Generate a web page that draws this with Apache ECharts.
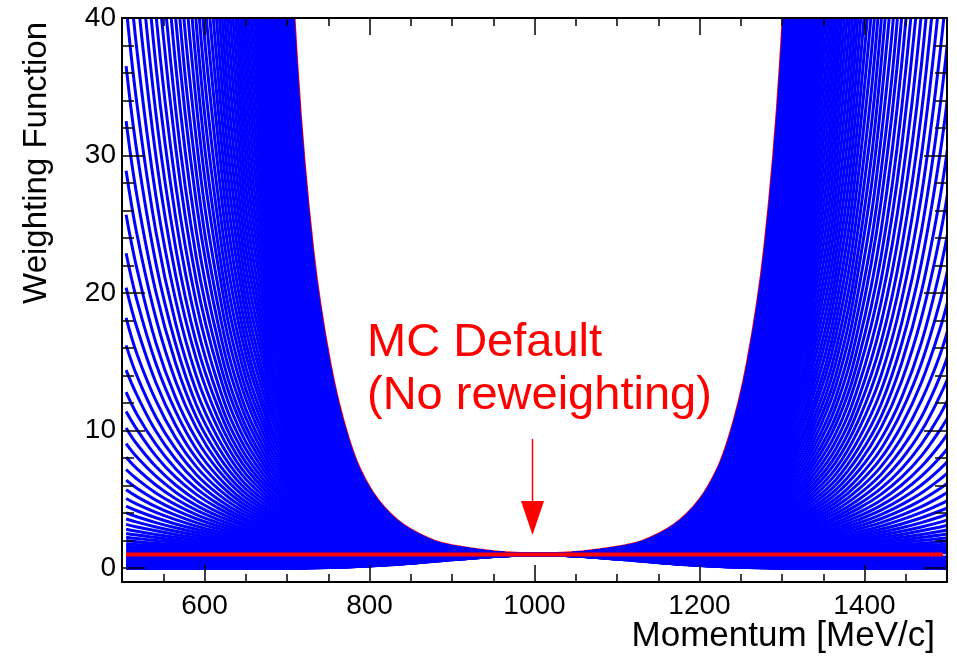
<!DOCTYPE html>
<html>
<head>
<meta charset="utf-8">
<script src="https://cdn.jsdelivr.net/npm/echarts@6/dist/echarts.min.js"></script>
<style>
html,body{margin:0;padding:0;background:#ffffff;}
#chart{width:957px;height:657px;}
</style>
</head>
<body>
<div id="chart"></div>
<script>
// ---- axes ----
const momentumRange = [500, 1500];
const weightRange = [-1, 40];
const xMajorTicks = [600, 800, 1000, 1200, 1400];
const xMinorStep = 50;
const yMajorTicks = [0, 10, 20, 30, 40];
const yMinorTicks = [0, 2, 4, 6, 8, 10, 12, 14, 16, 18, 20, 22, 24, 26, 28, 30, 32, 34, 36, 38, 40];

// ---- curve sampling (momentum = centre +/- offset) ----
const centerMomentum = 1005;
const sampleOffsets = [0, 104, 147, 180, 208, 232, 254, 275, 294, 311, 328, 360, 388, 415, 440, 464, 487, 500];

// weights read at each offset (same value on both sides of the centre); curves rising away from the centre
const risingCurves = [
[1,1.01,1.01,1.02,1.02,1.03,1.03,1.04,1.04,1.05,1.05,1.06,1.07,1.08,1.09,1.11,1.12,1.12],
[1,1.01,1.02,1.03,1.04,1.05,1.06,1.07,1.08,1.09,1.11,1.13,1.15,1.17,1.2,1.22,1.25,1.26],
[1,1.02,1.03,1.05,1.06,1.08,1.09,1.11,1.13,1.14,1.16,1.2,1.23,1.27,1.31,1.35,1.39,1.42],
[1,1.02,1.04,1.06,1.08,1.11,1.13,1.15,1.17,1.2,1.22,1.27,1.32,1.38,1.43,1.49,1.55,1.59],
[1,1.03,1.05,1.08,1.11,1.13,1.16,1.19,1.22,1.25,1.28,1.35,1.42,1.49,1.57,1.65,1.73,1.79],
[1,1.03,1.06,1.09,1.13,1.16,1.2,1.23,1.27,1.31,1.35,1.43,1.52,1.62,1.72,1.82,1.93,2.01],
[1,1.04,1.07,1.11,1.15,1.19,1.23,1.28,1.32,1.37,1.42,1.52,1.63,1.75,1.88,2.01,2.16,2.25],
[1,1.04,1.08,1.13,1.17,1.22,1.27,1.32,1.38,1.43,1.49,1.62,1.75,1.9,2.05,2.23,2.41,2.53],
[1,1.05,1.09,1.14,1.2,1.25,1.31,1.37,1.43,1.5,1.57,1.72,1.88,2.05,2.25,2.46,2.69,2.84],
[1,1.05,1.11,1.16,1.22,1.28,1.35,1.42,1.49,1.57,1.65,1.82,2.01,2.23,2.46,2.72,3,3.19],
[1,1.06,1.12,1.18,1.25,1.32,1.39,1.47,1.55,1.64,1.73,1.93,2.16,2.41,2.69,3,3.35,3.58],
[1,1.06,1.13,1.2,1.27,1.35,1.43,1.52,1.62,1.72,1.82,2.05,2.32,2.61,2.94,3.32,3.74,4.02],
[1,1.07,1.14,1.22,1.3,1.38,1.48,1.58,1.68,1.8,1.92,2.18,2.48,2.83,3.22,3.67,4.18,4.52],
[1,1.07,1.15,1.23,1.32,1.42,1.52,1.63,1.75,1.88,2.01,2.32,2.66,3.06,3.53,4.06,4.66,5.07],
[1,1.08,1.16,1.25,1.35,1.45,1.57,1.69,1.82,1.96,2.12,2.46,2.86,3.32,3.86,4.48,5.21,5.7],
[1,1.08,1.17,1.27,1.38,1.49,1.62,1.75,1.9,2.05,2.23,2.61,3.06,3.6,4.22,4.95,5.81,6.4],
[1,1.09,1.19,1.29,1.4,1.53,1.67,1.81,1.97,2.15,2.34,2.77,3.29,3.9,4.62,5.47,6.49,7.18],
[1,1.09,1.2,1.31,1.43,1.57,1.72,1.88,2.05,2.25,2.46,2.94,3.53,4.22,5.05,6.05,7.24,8.07],
[1,1.1,1.21,1.33,1.46,1.61,1.77,1.94,2.14,2.35,2.59,3.13,3.78,4.57,5.53,6.69,8.08,9.06],
[1,1.11,1.22,1.35,1.49,1.65,1.82,2.01,2.23,2.46,2.72,3.32,4.06,4.95,6.05,7.39,9.03,10.2],
[1,1.11,1.23,1.37,1.52,1.69,1.88,2.09,2.32,2.57,2.86,3.53,4.35,5.37,6.62,8.17,10.1,11.4],
[1,1.12,1.25,1.39,1.55,1.73,1.93,2.16,2.41,2.69,3,3.74,4.66,5.81,7.24,9.03,11.2,12.8],
[1,1.12,1.26,1.41,1.58,1.78,1.99,2.24,2.51,2.82,3.16,3.97,5,6.3,7.92,9.97,12.6,14.4],
[1,1.13,1.27,1.43,1.62,1.82,2.05,2.32,2.61,2.94,3.32,4.22,5.37,6.82,8.67,11,14,16.2],
[1,1.13,1.28,1.46,1.65,1.87,2.12,2.4,2.72,3.08,3.49,4.48,5.75,7.39,9.49,12.2,15.6,18.2],
[1,1.14,1.3,1.48,1.68,1.92,2.18,2.48,2.83,3.22,3.67,4.76,6.17,8,10.4,13.5,17.5,20.4],
[1,1.14,1.31,1.5,1.72,1.96,2.25,2.57,2.94,3.37,3.86,5.05,6.62,8.67,11.4,14.9,19.5,22.9],
[1,1.15,1.32,1.52,1.75,2.01,2.32,2.66,3.06,3.53,4.06,5.37,7.1,9.39,12.4,16.4,21.8,25.7],
[1,1.16,1.34,1.54,1.79,2.06,2.39,2.76,3.19,3.69,4.26,5.7,7.61,10.2,13.6,18.2,24.3,28.9],
[1,1.16,1.35,1.57,1.82,2.12,2.46,2.86,3.32,3.86,4.48,6.05,8.17,11,14.9,20.1,27.1,32.5],
[1,1.17,1.36,1.59,1.86,2.17,2.53,2.96,3.46,4.03,4.71,6.42,8.76,11.9,16.3,22.2,30.3,36.5],
[1,1.17,1.38,1.62,1.9,2.23,2.61,3.06,3.6,4.22,4.95,6.82,9.39,12.9,17.8,24.5,33.8,40.9],
[1,1.18,1.39,1.64,1.93,2.28,2.69,3.17,3.74,4.42,5.21,7.24,10.1,14,19.5,27.1,37.7,46],
[1,1.19,1.4,1.67,1.97,2.34,2.77,3.29,3.9,4.62,5.47,7.69,10.8,15.2,21.3,30,42.1,51.6],
[1,1.19,1.42,1.69,2.01,2.4,2.86,3.4,4.06,4.83,5.75,8.17,11.6,16.4,23.3,33.1,47,58],
[1,1.2,1.43,1.72,2.05,2.46,2.94,3.53,4.22,5.05,6.05,8.67,12.4,17.8,25.5,36.6,52.5,65.1],
[1,1.2,1.45,1.74,2.1,2.52,3.03,3.65,4.39,5.29,6.36,9.21,13.3,19.3,27.9,40.4,58.6],
[1,1.21,1.46,1.77,2.14,2.59,3.13,3.78,4.57,5.53,6.69,9.78,14.3,20.9,30.6,44.7,65.4],
[1,1.22,1.48,1.8,2.18,2.65,3.22,3.92,4.76,5.78,7.03,10.4,15.3,22.6,33.4,49.4,73],
[1,1.22,1.49,1.82,2.23,2.72,3.32,4.06,4.95,6.05,7.39,11,16.4,24.5,36.6,54.6,81.5],
[1,1.23,1.51,1.85,2.27,2.79,3.42,4.2,5.16,6.33,7.77,11.7,17.6,26.6,40,60.3,90.9],
[1,1.23,1.52,1.88,2.32,2.86,3.53,4.35,5.37,6.62,8.17,12.4,18.9,28.8,43.8,66.7],
[1,1.24,1.54,1.91,2.36,2.93,3.63,4.5,5.58,6.92,8.58,13.2,20.3,31.2,47.9,73.7],
[1,1.25,1.55,1.93,2.41,3,3.74,4.66,5.81,7.24,9.03,14,21.8,33.8,52.5,81.5],
[1,1.25,1.57,1.96,2.46,3.08,3.86,4.83,6.05,7.58,9.49,14.9,23.3,36.6,57.4,90],
[1,1.26,1.58,1.99,2.51,3.16,3.97,5,6.3,7.92,9.97,15.8,25,39.6,62.8,99.5],
[1,1.26,1.6,2.02,2.56,3.24,4.1,5.18,6.55,8.29,10.5,16.8,26.8,42.9,68.7],
[1,1.27,1.62,2.05,2.61,3.32,4.22,5.37,6.82,8.67,11,17.8,28.8,46.5,75.2],
[1,1.28,1.63,2.09,2.66,3.4,4.35,5.56,7.1,9.07,11.6,18.9,30.9,50.4,82.3],
[1,1.28,1.65,2.12,2.72,3.49,4.48,5.75,7.39,9.49,12.2,20.1,33.1,54.6,90],
[1,1.29,1.67,2.15,2.77,3.58,4.62,5.96,7.69,9.92,12.8,21.3,35.5,59.1,98.5],
[1,1.3,1.68,2.18,2.83,3.67,4.76,6.17,8,10.4,13.5,22.6,38.1,64.1,107.8],
[1,1.3,1.7,2.21,2.89,3.76,4.9,6.39,8.33,10.9,14.2,24,40.9,69.4],
[1,1.31,1.72,2.25,2.94,3.86,5.05,6.62,8.67,11.4,14.9,25.5,43.8,75.2],
[1,1.32,1.73,2.28,3,3.96,5.21,6.86,9.03,11.9,15.6,27.1,47,81.5],
[1,1.32,1.75,2.32,3.06,4.06,5.37,7.1,9.39,12.4,16.4,28.8,50.4,88.2],
[1,1.33,1.77,2.35,3.13,4.16,5.53,7.35,9.78,13,17.3,30.6,54.1,95.6],
[1,1.34,1.79,2.39,3.19,4.26,5.7,7.61,10.2,13.6,18.2,32.5,58,103.5],
[1,1.34,1.8,2.42,3.25,4.37,5.87,7.89,10.6,14.2,19.1,34.5,62.2,112.2],
[1,1.35,1.82,2.46,3.32,4.48,6.05,8.17,11,14.9,20.1,36.6,66.7,121.5],
[1,1.36,1.84,2.5,3.39,4.6,6.23,8.46,11.5,15.6,21.1,38.9,71.5,131.6],
[1,1.36,1.86,2.53,3.46,4.71,6.42,8.76,11.9,16.3,22.2,41.3,76.7],
[1,1.37,1.88,2.57,3.53,4.83,6.62,9.07,12.4,17,23.3,43.8,82.3],
[1,1.38,1.9,2.61,3.6,4.95,6.82,9.39,12.9,17.8,24.5,46.5,88.2],
[1,1.38,1.92,2.65,3.67,5.08,7.03,9.73,13.5,18.6,25.8,49.4,94.6],
[1,1.39,1.93,2.69,3.74,5.21,7.24,10.1,14,19.5,27.1,52.5,101.5],
[1,1.4,1.95,2.73,3.82,5.34,7.46,10.4,14.6,20.4,28.5,55.7,108.9],
[1,1.4,1.97,2.77,3.9,5.47,7.69,10.8,15.2,21.3,30,59.1,116.7],
[1,1.41,1.99,2.82,3.97,5.61,7.92,11.2,15.8,22.3,31.5,62.8,125.2],
[1,1.42,2.01,2.86,4.06,5.75,8.17,11.6,16.4,23.3,33.1,66.7,134.3],
[1,1.43,2.03,2.9,4.14,5.9,8.41,12,17.1,24.4,34.8,70.8,144],
[1,1.43,2.05,2.94,4.22,6.05,8.67,12.4,17.8,25.5,36.6,75.2,154.5],
[1,1.44,2.08,2.99,4.31,6.2,8.94,12.9,18.5,26.7,38.5,79.8,165.7],
[1,1.45,2.1,3.03,4.39,6.36,9.21,13.3,19.3,27.9,40.4,84.8],
[1,1.46,2.12,3.08,4.48,6.52,9.49,13.8,20.1,29.2,42.5,90],
[1,1.46,2.14,3.13,4.57,6.69,9.78,14.3,20.9,30.6,44.7,95.6],
[1,1.47,2.16,3.17,4.66,6.86,10.1,14.8,21.8,32,47,101],
[1,1.48,2.18,3.22,4.76,7.03,10.4,15.3,22.6,33.4,49.4,107.8],
[1,1.48,2.2,3.27,4.85,7.21,10.7,15.9,23.6,35,51.9,114.4],
[1,1.49,2.23,3.32,4.95,7.39,11,16.4,24.5,36.6,54.6,121.5],
[1,1.5,2.25,3.37,5.05,7.58,11.4,17,25.5,38.3,57.4,129],
[1,1.51,2.27,3.42,5.16,7.77,11.7,17.6,26.6,40,60.3,137],
[1,1.51,2.29,3.47,5.26,7.96,12.1,18.3,27.7,41.9,63.4],
[1,1.52,2.32,3.53,5.37,8.17,12.4,18.9,28.8,43.8,66.7],
[1,1.53,2.34,3.58,5.47,8.37,12.8,19.6,30,45.8,70.1],
[1,1.54,2.36,3.63,5.58,8.58,13.2,20.3,31.2,47.9,73.7],
[1,1.55,2.39,3.69,5.7,8.8,13.6,21,32.5,50.1,77.5],
[1,1.55,2.41,3.74,5.81,9.03,14,21.8,33.8,52.5,81.5],
[1,1.56,2.44,3.8,5.93,9.25,14.4,22.5,35.2,54.9,85.6],
[1,1.57,2.46,3.86,6.05,9.49,14.9,23.3,36.6,57.4,90]
];

// curves falling away from the centre (weights below 1)
const fallingCurves = [
[1,.99,.98,.97,.96,.95,.94,.93,.92,.91,.9,.89,.87,.85,.84,.82,.8,.79],
[1,.98,.96,.94,.92,.9,.89,.87,.85,.84,.82,.79,.76,.73,.7,.67,.64,.63],
[1,.97,.94,.91,.89,.86,.84,.81,.79,.76,.74,.7,.66,.62,.58,.55,.52,.5],
[1,.96,.92,.89,.85,.82,.79,.76,.73,.7,.67,.62,.57,.53,.49,.45,.41,.4],
[1,.95,.9,.86,.82,.78,.74,.7,.67,.64,.61,.55,.5,.45,.41,.37,.33,.31],
[1,.94,.89,.84,.79,.74,.7,.66,.62,.58,.55,.49,.43,.38,.34,.3,.27,.25],
[1,.93,.87,.81,.76,.7,.66,.61,.57,.53,.5,.43,.38,.33,.28,.25,.21,.2],
[1,.92,.85,.79,.73,.67,.62,.57,.53,.49,.45,.38,.33,.28,.24,.2,.17,.16],
[1,.91,.84,.76,.7,.64,.58,.53,.49,.44,.41,.34,.28,.24,.2,.17,.14,.12],
[1,.9,.82,.74,.67,.61,.55,.5,.45,.41,.37,.3,.25,.2,.17,.14,.11,.098],
[1,.9,.8,.72,.64,.58,.52,.46,.41,.37,.33,.27,.21,.17,.14,.11,.089,.078],
[1,.89,.79,.7,.62,.55,.49,.43,.38,.34,.3,.24,.19,.15,.12,.091,.071,.062],
[1,.88,.77,.68,.59,.52,.46,.4,.35,.31,.27,.21,.16,.12,.096,.074,.057,.049],
[1,.87,.76,.66,.57,.5,.43,.38,.33,.28,.25,.19,.14,.11,.08,.061,.046,.039],
[1,.86,.74,.64,.55,.47,.41,.35,.3,.26,.22,.17,.12,.091,.067,.05,.037,.031],
[1,.85,.73,.62,.53,.45,.38,.33,.28,.24,.2,.15,.11,.077,.056,.041,.03,.024],
[1,.84,.71,.6,.51,.43,.36,.3,.26,.22,.18,.13,.093,.066,.047,.033,.024,.019],
[1,.84,.7,.58,.49,.41,.34,.28,.24,.2,.17,.12,.08,.056,.039,.027,.019,.015],
[1,.83,.68,.57,.47,.39,.32,.26,.22,.18,.15,.1,.07,.048,.033,.022,.015,.012],
[1,.82,.67,.55,.45,.37,.3,.25,.2,.17,.14,.091,.061,.041,.027,.018,.012,.01],
[1,.81,.66,.53,.43,.35,.28,.23,.19,.15,.12,.08,.053,.035,.023,.015,.01,.008],
[1,.8,.64,.52,.41,.33,.27,.21,.17,.14,.11,.071,.046,.03,.019,.012,.008,.006],
[1,.79,.63,.5,.4,.32,.25,.2,.16,.13,.1,.063,.04,.025,.016,.01,.006,.005],
[1,.79,.62,.49,.38,.3,.24,.19,.15,.12,.091,.056,.035,.021,.013,.008,.005,.004],
[1,.78,.61,.47,.37,.29,.22,.17,.14,.11,.082,.05,.03,.018,.011,.007,.004,.003],
[1,.77,.59,.46,.35,.27,.21,.16,.12,.096,.074,.044,.026,.016,.009,.006,.003,.002],
[1,.76,.58,.44,.34,.26,.2,.15,.12,.088,.067,.039,.023,.013,.008,.005,.003,.002],
[1,.76,.57,.43,.33,.25,.19,.14,.11,.08,.061,.035,.02,.011,.006,.004,.002,.002],
[1,.75,.56,.42,.31,.23,.18,.13,.098,.074,.055,.031,.017,.01,.005,.003,.002,.001],
[1,.74,.55,.41,.3,.22,.17,.12,.091,.067,.05,.027,.015,.008,.005,.002,.001,.001],
[1,.73,.54,.39,.29,.21,.16,.11,.084,.061,.045,.024,.013,.007,.004,.002,.001,.001],
[1,.73,.53,.38,.28,.2,.15,.11,.077,.056,.041,.021,.011,.006,.003,.002,.001,.001],
[1,.72,.52,.37,.27,.19,.14,.099,.071,.051,.037,.019,.01,.005,.003,.001,.001,0],
[1,.71,.51,.36,.26,.18,.13,.093,.066,.047,.033,.017,.009,.004,.002,.001,.001,0],
[1,.7,.5,.35,.25,.17,.12,.086,.061,.043,.03,.015,.007,.004,.002,.001,0,0],
[1,.7,.49,.34,.24,.17,.12,.08,.056,.039,.027,.013,.006,.003,.002,.001,0,0],
[1,.69,.48,.33,.23,.16,.11,.075,.052,.036,.025,.012,.006,.003,.001,.001,0,0],
[1,.68,.47,.32,.22,.15,.1,.07,.048,.033,.022,.01,.005,.002,.001,0,0,0],
[1,.68,.46,.31,.21,.14,.096,.065,.044,.03,.02,.009,.004,.002,.001,0,0,0],
[1,.67,.45,.3,.2,.14,.091,.061,.041,.027,.018,.008,.004,.002,.001,0,0,0],
[1,.66,.44,.29,.19,.13,.085,.057,.038,.025,.017,.007,.003,.001,.001,0,0,0],
[1,.66,.43,.28,.19,.12,.08,.053,.035,.023,.015,.006,.003,.001,.001,0,0,0],
[1,.65,.42,.28,.18,.12,.076,.049,.032,.021,.014,.006,.002,.001,0,0,0,0],
[1,.64,.41,.27,.17,.11,.071,.046,.03,.019,.012,.005,.002,.001,0,0,0,0],
[1,.64,.41,.26,.17,.11,.067,.043,.027,.017,.011,.005,.002,.001,0,0,0,0]
];

// MC default (no reweighting)
const defaultMomentum = [505, 1495];
const defaultWeight = 1;

// ---- build ----
function curvePoints(row) {
  const pts = [];
  for (let k = row.length - 1; k > 0; k--) pts.push([centerMomentum - sampleOffsets[k], row[k]]);
  for (let k = 0; k < row.length; k++) pts.push([centerMomentum + sampleOffsets[k], row[k]]);
  return pts;
}

const FONT = "'Liberation Sans', Arial, Helvetica, sans-serif";
const BLUE = '#0000ff';
const RED = '#ff0000';

const lineBase = {
  type: 'line', xAxisIndex: 0, yAxisIndex: 0, symbol: 'none', smooth: 0.4,
  silent: true, animation: false, clip: true, emphasis: { disabled: true }, z: 2
};

const series = [];
series.push(Object.assign({}, lineBase, {
  data: curvePoints(risingCurves[risingCurves.length - 1]),
  lineStyle: { color: RED, width: 4.6 }
}));
fallingCurves.forEach(function (row) {
  series.push(Object.assign({}, lineBase, { data: curvePoints(row), lineStyle: { color: BLUE, width: 3.4 } }));
});
risingCurves.forEach(function (row) {
  series.push(Object.assign({}, lineBase, { data: curvePoints(row), lineStyle: { color: BLUE, width: 3 } }));
});
series.push(Object.assign({}, lineBase, {
  smooth: false,
  data: defaultMomentum.map(function (m) { return [m, defaultWeight]; }),
  lineStyle: { color: RED, width: 4 }, z: 3
}));

function plainNumber(v) { return String(v); }

function xAxisDef(position, major, showLabel) {
  const ax = {
    type: 'value', gridIndex: 0, position: position,
    min: momentumRange[0], max: momentumRange[1], z: 6,
    splitLine: { show: false },
    axisLine: { show: major, onZero: false, lineStyle: { color: '#000', width: 2 } },
    axisTick: { show: true, inside: true, length: major ? 17 : 8, lineStyle: { color: '#000', width: 1.5 } },
    axisLabel: { show: false }
  };
  if (major) {
    ax.axisTick.customValues = xMajorTicks;
    if (showLabel) {
      ax.axisLabel = { show: true, customValues: xMajorTicks, formatter: plainNumber, margin: 10,
        fontSize: 28, color: '#000', fontFamily: FONT };
    }
  } else {
    ax.interval = xMinorStep;
  }
  return ax;
}
function yAxisDef(position, major, showLabel) {
  const ax = {
    type: 'value', gridIndex: 0, position: position,
    min: weightRange[0], max: weightRange[1], z: 6,
    splitLine: { show: false },
    axisLine: { show: major, onZero: false, lineStyle: { color: '#000', width: 2 } },
    axisTick: { show: true, inside: true, length: major ? 23 : 12,
      customValues: major ? yMajorTicks : yMinorTicks, lineStyle: { color: '#000', width: 1.5 } },
    axisLabel: { show: false }
  };
  if (showLabel) {
    ax.axisLabel = { show: true, customValues: yMajorTicks, formatter: plainNumber, margin: 6,
      fontSize: 28, color: '#000', fontFamily: FONT };
  }
  return ax;
}

const chart = echarts.init(document.getElementById('chart'), null, { renderer: 'canvas' });
chart.setOption({
  backgroundColor: '#ffffff',
  animation: false,
  grid: { left: 122, right: 10, top: 18, bottom: 75, show: false },
  xAxis: [
    xAxisDef('bottom', true, true),
    xAxisDef('bottom', false, false),
    xAxisDef('top', true, false),
    xAxisDef('top', false, false)
  ],
  yAxis: [
    yAxisDef('left', true, true),
    yAxisDef('left', false, false),
    yAxisDef('right', true, false),
    yAxisDef('right', false, false)
  ],
  series: series,
  graphic: [
    // white margins so that lines never spill outside the frame
    { type: 'rect', z: 4, silent: true, shape: { x: 121, y: 0, width: 836, height: 17 }, style: { fill: '#ffffff' } },
    { type: 'rect', z: 4, silent: true, shape: { x: 948, y: 0, width: 9, height: 657 }, style: { fill: '#ffffff' } },
    { type: 'text', x: 935, y: 636, z: 20,
      style: { text: 'Momentum [MeV/c]', fill: '#000', fontSize: 35, fontFamily: FONT, align: 'right', verticalAlign: 'middle' } },
    { type: 'text', x: 37, y: 22, rotation: Math.PI / 2, z: 20,
      style: { text: 'Weighting Function', fill: '#000', fontSize: 33, fontFamily: FONT, align: 'right', verticalAlign: 'middle' } },
    { type: 'text', x: 367, y: 343, z: 20,
      style: { text: 'MC Default', fill: RED, fontSize: 47, fontFamily: FONT, align: 'left', verticalAlign: 'middle' } },
    { type: 'text', x: 367, y: 396, z: 20,
      style: { text: '(No reweighting)', fill: RED, fontSize: 47, fontFamily: FONT, align: 'left', verticalAlign: 'middle' } },
    { type: 'line', z: 20, shape: { x1: 532.5, y1: 439, x2: 532.5, y2: 505 }, style: { stroke: RED, lineWidth: 1.5 } },
    { type: 'polygon', z: 20, shape: { points: [[521, 501], [544, 501], [532.5, 535]] }, style: { fill: RED } }
  ]
});
</script>
</body>
</html>
